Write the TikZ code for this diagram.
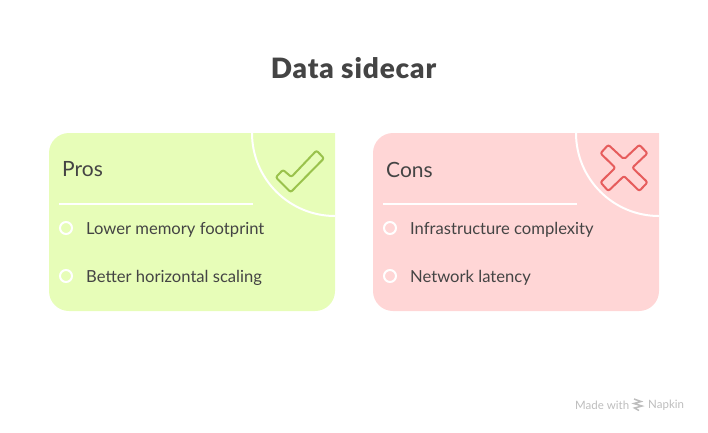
\documentclass[tikz,border=0pt]{standalone}
\usepackage{fontspec}
\setmainfont{Lato}
\newfontfamily\titlefont{Lato Black}[LetterSpace=3]
\usepackage{tikz}
\definecolor{inkgray}{HTML}{444444}
\definecolor{prosfill}{HTML}{E7FDB8}
\definecolor{consfill}{HTML}{FFD6D6}
\definecolor{checkgreen}{HTML}{9AC24C}
\definecolor{crossred}{HTML}{E65C5C}
\definecolor{footgray}{HTML}{BDBDBD}
\tikzset{
  titletext/.style={text=inkgray, font=\fontsize{28}{32}\titlefont},
  headtext/.style={anchor=west, inner sep=0pt, text=inkgray, font=\fontsize{21}{24}\selectfont},
  itemtext/.style={anchor=west, inner sep=0pt, text=inkgray, font=\fontsize{16.6}{19}\selectfont},
  foottext/.style={anchor=west, inner sep=0pt, text=footgray, font=\fontsize{11.5}{14}\selectfont},
  whiteline/.style={draw=white, line width=2pt},
  itemdot/.style={circle, draw=white, line width=2pt, minimum size=12pt, inner sep=0pt},
  iconline/.style={line width=2pt, rounded corners=2pt, line join=round}
}
\begin{document}
\begin{tikzpicture}[x=1pt, y=-1pt]
\useasboundingbox (0,0) rectangle (708,432);
\node[titletext] (title) at (353.5,68) {Data sidecar};

% Pros card
\fill[prosfill] (335,133) [rounded corners=20pt] -- (335,311) -- (49,311) -- (49,133) -- (192,133) [sharp corners] -- cycle;
\draw[whiteline] (252,133) arc[start angle=180, end angle=90, radius=83];
\draw[whiteline] (59,204) -- (253,204);
\draw[iconline, checkgreen] (275.8,177.3) -- (283,169.8) -- (291.3,177) -- (316.5,150.5) -- (324,158.3) -- (290.7,192.2) -- cycle;
\node[headtext] (prosHead) at (62,169.5) {Pros};
\node[itemdot] (prosDotA) at (66,228) {};
\node[itemdot] (prosDotB) at (66,276) {};
\node[itemtext] (prosItemA) at (86,229.5) {Lower memory footprint};
\node[itemtext] (prosItemB) at (86,277.5) {Better horizontal scaling};

% Cons card
\fill[consfill] (659,133) [rounded corners=20pt] -- (659,311) -- (373,311) -- (373,133) -- (516,133) [sharp corners] -- cycle;
\draw[whiteline] (576,133) arc[start angle=180, end angle=90, radius=83];
\draw[whiteline] (383,204) -- (577,204);
\draw[iconline, crossred] (624,159.3) -- (608.3,144.8) -- (600.5,153.3) -- (615.3,167.7) -- (600.5,182.3) -- (608.3,191) -- (624,176) -- (639.3,191) -- (647.5,182.3) -- (632.3,167.7) -- (647.5,153.3) -- (639.3,144.8) -- cycle;
\node[headtext] (consHead) at (386,169.5) {Cons};
\node[itemdot] (consDotA) at (390,228) {};
\node[itemdot] (consDotB) at (390,276) {};
\node[itemtext] (consItemA) at (410,229.5) {Infrastructure complexity};
\node[itemtext] (consItemB) at (410,277.5) {Network latency};

% Footer
\node[foottext] (madeWith) at (575,405) {Made with};
\draw[footgray, line width=1.5pt] (634,399) -- (641,401.5) -- (634,403.5) -- (642,406) -- (634.5,408) -- (639,410.5);
\node[foottext] (napkin) at (648,405) {Napkin};
\end{tikzpicture}
\end{document}
